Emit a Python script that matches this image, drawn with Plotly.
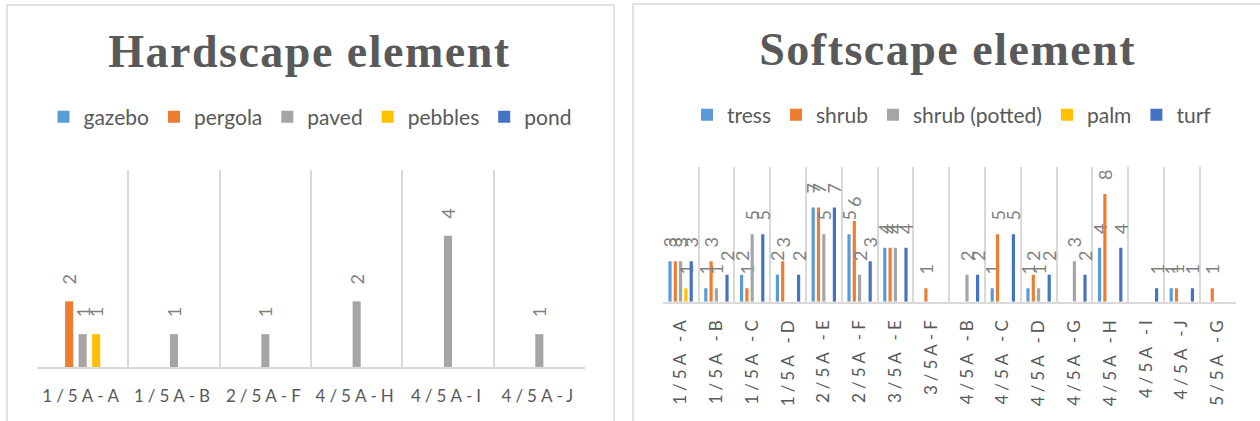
import plotly.graph_objects as go

W, H = 1260, 421

# ---- data -------------------------------------------------------------
hard_categories = ["1/5A-A", "1/5A-B", "2/5A-F", "4/5A-H", "4/5A-I", "4/5A-J"]
gazebo = [None, None, None, None, None, None]
pergola = [2, None, None, None, None, None]
paved = [1, 1, 1, 2, 4, 1]
pebbles = [1, None, None, None, None, None]
pond = [None, None, None, None, None, None]

soft_categories = ["1/5A -A", "1/5A -B", "1/5A -C", "1/5A -D", "2/5A -E", "2/5A -F",
                   "3/5A -E", "3/5A-F", "4/5A -B", "4/5A -C", "4/5A -D", "4/5A -G",
                   "4/5A -H", "4/5A -I", "4/5A -J", "5/5A -G"]
tress = [3, 1, 2, 2, 7, 5, 4, None, None, 1, 1, None, 4, None, 1, None]
shrub = [3, 3, 1, 3, 7, 6, 4, 1, None, 5, 2, None, 8, None, 1, 1]
shrub_potted = [3, 1, 5, None, 5, 2, 4, None, 2, None, 1, 3, None, None, None, None]
palm = [1, None, None, None, None, None, None, None, None, None, None, None, None, None, None, None]
turf = [3, 2, 5, 2, 7, 3, 4, None, 2, 5, 2, 2, 4, 1, 1, None]

C_LBLUE, C_ORANGE, C_GRAY, C_GOLD, C_BLUE = "#5B9BD5", "#ED7D31", "#A5A5A5", "#FFC000", "#4472C4"
TXT = "#595959"
LBL = "#7F7F7F"
GRID = "#D9D9D9"
SANS = "Lato, Liberation Sans, sans-serif"
SERIF = "Liberation Serif, Times New Roman, serif"


def px(x):
    return x / W


def py(y):
    return 1 - y / H


fig = go.Figure()


def add_bars(names, series, colors, cats, xa, ya, legend):
    for name, vals, col in zip(names, series, colors):
        fig.add_trace(go.Bar(
            name=name, x=cats, y=vals, marker_color=col, marker_line_width=0,
            xaxis=xa, yaxis=ya, legend=legend,
            texttemplate="\u00a0\u00a0\u00a0%{y}", textposition="outside",
            textangle=-90, constraintext="none", cliponaxis=False,
            textfont=dict(family=SANS, size=18, color=LBL),
            hoverinfo="skip",
        ))


add_bars(["gazebo", "pergola", "paved", "pebbles", "pond"],
         [gazebo, pergola, paved, pebbles, pond],
         [C_LBLUE, C_ORANGE, C_GRAY, C_GOLD, C_BLUE],
         hard_categories, "x", "y", "legend")
add_bars(["tress", "shrub", "shrub (potted)", "palm", "turf"],
         [tress, shrub, shrub_potted, palm, turf],
         [C_LBLUE, C_ORANGE, C_GRAY, C_GOLD, C_BLUE],
         soft_categories, "x2", "y2", "legend2")

xcommon = dict(type="category", showgrid=True, gridcolor=GRID, gridwidth=1.5,
               tickson="boundaries", ticks="", showline=True, linecolor=GRID,
               linewidth=1.5, zeroline=False, fixedrange=True)
ycommon = dict(showgrid=False, showticklabels=False, zeroline=False,
               showline=False, ticks="", fixedrange=True)

fig.update_layout(
    width=W, height=H, margin=dict(l=0, r=0, t=0, b=0),
    paper_bgcolor="white", plot_bgcolor="white",
    barmode="group", bargap=0.26, bargroupgap=0.4,
    showlegend=True,
    xaxis=dict(xcommon, domain=[px(37), px(585)], anchor="y",
               range=[-0.5, len(hard_categories) - 0.5],
               tickfont=dict(family=SANS, size=17, color=TXT), ticklabelstandoff=13),
    yaxis=dict(ycommon, domain=[py(367), py(170)], anchor="x", range=[0, 6]),
    xaxis2=dict(xcommon, domain=[px(662.7), px(1235.5)], anchor="y2",
                range=[-0.5, len(soft_categories) - 0.5], tickangle=-90,
                tickfont=dict(family=SANS, size=17, color=TXT), ticklabelstandoff=6),
    yaxis2=dict(ycommon, domain=[py(301.7), py(167)], anchor="x2", range=[0, 10]),
    legend=dict(orientation="h", x=px(310), xanchor="center", y=py(117), yanchor="middle",
                font=dict(family=SANS, size=21, color=TXT), bgcolor="rgba(0,0,0,0)",
                itemclick=False, itemdoubleclick=False),
    legend2=dict(orientation="h", x=px(952), xanchor="center", y=py(115), yanchor="middle",
                 font=dict(family=SANS, size=21, color=TXT), bgcolor="rgba(0,0,0,0)",
                 itemclick=False, itemdoubleclick=False),
    shapes=[
        dict(type="rect", xref="paper", yref="paper", x0=px(7), x1=px(614), y0=py(430), y1=py(5),
             line=dict(color=GRID, width=1.5), fillcolor="rgba(0,0,0,0)", layer="below"),
        dict(type="rect", xref="paper", yref="paper", x0=px(633), x1=px(1263), y0=py(430), y1=py(4),
             line=dict(color=GRID, width=1.5), fillcolor="rgba(0,0,0,0)", layer="below"),
    ],
    annotations=[
        dict(text="<b>Hardscape element</b>", xref="paper", yref="paper", x=px(310), y=py(52),
             xanchor="center", yanchor="middle", showarrow=False,
             font=dict(family=SERIF, size=46, color=TXT)),
        dict(text="<b>Softscape element</b>", xref="paper", yref="paper", x=px(948), y=py(50),
             xanchor="center", yanchor="middle", showarrow=False,
             font=dict(family=SERIF, size=46, color=TXT)),
    ],
)

# character spacing for the axis labels and chart titles
spacing_js = """
var gd = document.getElementById('{plot_id}');
gd.querySelectorAll('.xtick text, .x2tick text').forEach(function (t) {
    t.style.letterSpacing = '4px';
});
gd.querySelectorAll('.annotation-text').forEach(function (t) {
    t.style.letterSpacing = '1.5px';
});
"""

fig.write_html("out.html", post_script=spacing_js, config={"displayModeBar": False})
